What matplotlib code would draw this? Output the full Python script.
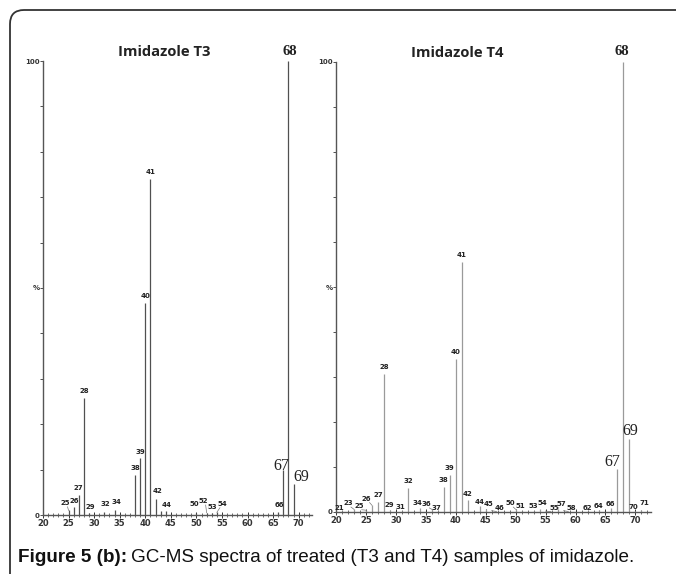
import matplotlib
matplotlib.use("Agg")
import matplotlib.pyplot as plt
from matplotlib.patches import FancyBboxPatch
from matplotlib.transforms import IdentityTransform

# m/z and relative intensity (%)
t3_mz = [25, 26, 27, 28, 29, 32, 34, 38, 39, 40, 41, 42, 43, 44, 50, 52, 53, 54, 66, 67, 68, 69]
t3_int = [1.0, 1.8, 4.4, 25.8, 0.5, 0.6, 1.2, 8.8, 12.5, 46.7, 74.0, 3.5, 0.9, 0.9,
          0.4, 0.5, 0.4, 0.6, 0.6, 9.9, 100.0, 6.8]

t4_mz = [21, 23, 25, 26, 27, 28, 29, 31, 32, 34, 36, 37, 38, 39, 40, 41, 42, 44, 45, 46,
         50, 51, 53, 54, 55, 57, 58, 62, 64, 66, 67, 68, 69, 70, 71]
t4_int = [0.3, 0.6, 0.4, 1.5, 2.3, 30.7, 0.4, 0.3, 5.4, 0.9, 0.6, 0.3, 5.6, 8.2, 34.0,
          55.6, 2.6, 1.3, 0.7, 0.3, 0.6, 0.3, 0.3, 0.6, 0.2, 0.6, 0.3, 0.3, 0.4, 0.8,
          9.6, 100.0, 16.3, 0.3, 0.4]

titles = ["Imidazole T3", "Imidazole T4"]
big_peaks = [67, 68, 69]

# label placement (m/z, %) for the crowded small peaks
t3_lab = {25: (24.3, 2.6), 26: (26.1, 3.1), 29: (29.2, 1.8), 32: (32.2, 2.4),
          34: (34.3, 2.9), 44: (44.2, 2.2), 50: (49.5, 2.4), 52: (51.3, 3.0),
          53: (53.1, 1.8), 54: (55.1, 2.4), 66: (66.3, 2.2),
          42: (42.3, 5.2), 67: (66.6, 10.9), 68: (68.2, 102.1), 69: (70.5, 8.4)}
t4_lab = {21: (20.6, 0.9), 23: (22.0, 1.9), 25: (23.8, 1.3), 26: (25.1, 2.9),
          29: (28.9, 1.6), 31: (30.7, 1.2), 34: (33.6, 2.0), 36: (35.1, 1.7),
          37: (36.8, 0.9), 44: (43.9, 2.3), 45: (45.5, 1.8), 46: (47.3, 0.9),
          50: (49.1, 1.9), 51: (50.7, 1.3), 53: (52.9, 1.3), 54: (54.5, 2.0),
          55: (56.4, 0.9), 57: (57.7, 1.8), 58: (59.3, 0.9), 62: (61.9, 0.9),
          64: (63.9, 1.3), 66: (65.8, 1.8), 70: (69.7, 1.2), 71: (71.5, 1.9),
          67: (66.1, 11.2), 68: (67.7, 102.3), 69: (69.2, 18.0)}

W, H = 676, 574
fig = plt.figure(figsize=(W / 100, H / 100), dpi=100)

# rounded frame around the figure (right and bottom edges run off the image)
frame = FancyBboxPatch((10, -40), 800, 564 + 40, boxstyle="round,pad=0,rounding_size=14",
                       transform=IdentityTransform(), fill=False, ec="#333333", lw=1.3)
fig.patches.append(frame)

axes_pos = [[43 / W, 59 / H, 269 / W, 454 / H],
            [336 / W, 62 / H, 315 / W, 450 / H]]
title_x = [43.8, 40.2]
line_col = ["#505050", "#9a9a9a"]

for k, (mz, inten, labs) in enumerate([(t3_mz, t3_int, t3_lab), (t4_mz, t4_int, t4_lab)]):
    ax = fig.add_axes(axes_pos[k])
    ax.set_xlim(20, 72.6)
    ax.set_ylim(0, 100)
    ax.vlines(mz, 0, inten, color=line_col[k], lw=0.9)
    for s in ["top", "right"]:
        ax.spines[s].set_visible(False)
    for s in ["left", "bottom"]:
        ax.spines[s].set_color("#555555")
        ax.spines[s].set_linewidth(1.0)

    ax.set_xticks(range(20, 71, 5))
    ax.set_xticks(range(20, 73), minor=True)
    ax.tick_params(axis="x", which="major", direction="inout", length=4, width=0.7,
                   labelsize=6, pad=1, colors="#333333")
    ax.tick_params(axis="x", which="minor", direction="inout", length=2.5, width=0.6,
                   colors="#555555")
    for t in ax.get_xticklabels():
        t.set_fontweight("bold")
    ax.set_yticks(range(0, 101, 10))
    ax.set_yticklabels(["0", "", "", "", "", "%", "", "", "", "", "100"])
    ax.tick_params(axis="y", direction="out", length=2, width=0.6, labelsize=5,
                   pad=0.5, colors="#333333")
    for t in ax.get_yticklabels():
        t.set_fontweight("bold")

    for m, h in zip(mz, inten):
        if m in big_peaks:
            lx, ly = labs[m]
            fs = 10.5 if m == 68 else 11.5
            ax.text(lx, ly, str(m), ha="center", va="center", fontsize=fs,
                    family="Liberation Serif", fontweight="bold" if m == 68 else "normal",
                    color="#222222", clip_on=False)
            continue
        if m in labs:
            lx, ly = labs[m]
            ax.text(lx, ly, str(m), ha="center", va="center", fontsize=5,
                    fontweight="bold", color="#222222")
            if abs(lx - m) > 0.5:
                ax.plot([m, lx + (0.5 if lx < m else -0.5)], [h, ly - 0.8],
                        color="#777777", lw=0.5)
        elif m != 43:
            ax.text(m, h + 0.8, str(m), ha="center", va="bottom", fontsize=5,
                    fontweight="bold", color="#222222")

    ax.text(title_x[k], 102, titles[k], ha="center", va="center", fontsize=10.6,
            family="Open Sans", fontweight="bold", color="#222222", clip_on=False)

# caption
cap_y = 1 - 557 / H
t1 = fig.text(18 / W, cap_y, "Figure 5 (b):", ha="left", va="center", fontsize=13.6,
              family="Liberation Sans", fontweight="bold", color="#111111")
fig.canvas.draw()
bb = t1.get_window_extent()
fig.text((bb.x1 + 4) / W, cap_y, "GC-MS spectra of treated (T3 and T4) samples of imidazole.",
         ha="left", va="center", fontsize=13.6, family="Liberation Sans", color="#111111")

fig.savefig("out.png", dpi=100)
